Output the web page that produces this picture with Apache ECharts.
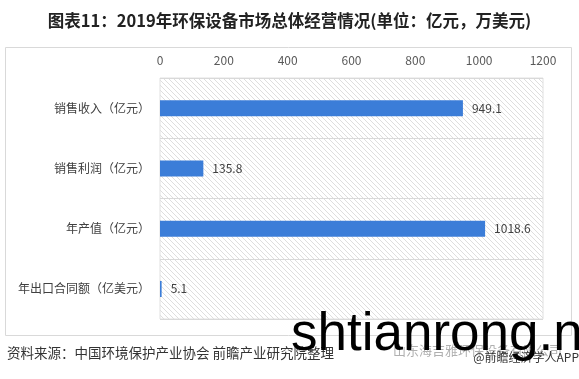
<!DOCTYPE html>
<html><head><meta charset="utf-8">
<script src="https://cdn.jsdelivr.net/npm/echarts@6/dist/echarts.min.js"></script>
<style>html,body{margin:0;padding:0;background:#fff}#c{width:579px;height:379px}</style>
</head><body><div id="c"></div>
<script>
const categories = ['销售收入（亿元）', '销售利润（亿元）', '年产值（亿元）', '年出口合同额（亿美元）'];
const values = [949.1, 135.8, 1018.6, 5.1];
const xTicks = [0, 200, 400, 600, 800, 1000, 1200];
const titleText = '图表11：2019年环保设备市场总体经营情况(单位：亿元，万美元)';
const sourceText = '资料来源：中国环境保护产业协会 前瞻产业研究院整理';

const tile = document.createElement('canvas');
tile.width = 5; tile.height = 5;
const g = tile.getContext('2d');
g.fillStyle = '#ffffff'; g.fillRect(0,0,5,5);
g.strokeStyle = '#d6d6d6'; g.lineWidth = 0.8;
g.beginPath();
g.moveTo(-1,-1); g.lineTo(6,6);
g.moveTo(-1,4); g.lineTo(1,6);
g.moveTo(4,-1); g.lineTo(6,1);
g.stroke();

const chart = echarts.init(document.getElementById('c'), null, {renderer:'canvas'});
chart.setOption({
  animation: false,
  title: {
    text: titleText, left: 'center', top: 7,
    textStyle: {fontSize: 16.5, fontWeight: 'bold', color: '#222', fontFamily: 'Noto Sans CJK SC'}
  },
  grid: {
    left: 160, right: 36, top: 78, bottom: 60, show: true,
    backgroundColor: {image: tile, repeat: 'repeat'},
    borderColor: '#e0e0e0', borderWidth: 1
  },
  xAxis: {
    type: 'value', position: 'top', min: 0, max: 1200, interval: 200,
    axisLine: {show: false}, axisTick: {show: false}, splitLine: {show: false},
    axisLabel: {color: '#595959', fontSize: 12, margin: 12, fontFamily: 'Noto Sans CJK SC',
      formatter: v => xTicks.includes(v) ? String(v) : ''}
  },
  yAxis: {
    type: 'category', data: categories, inverse: true,
    axisLine: {show: false}, axisTick: {show: false},
    splitLine: {show: true, lineStyle: {color: '#d9d9d9', width: 1}},
    axisLabel: {color: '#404040', fontSize: 12, margin: 10, fontFamily: 'Noto Sans CJK SC'}
  },
  series: [{
    type: 'bar', data: values, barWidth: 16,
    itemStyle: {color: '#3b7dd8'},
    label: {show: true, position: 'right', distance: 9, color: '#404040', fontSize: 12,
      fontFamily: 'Noto Sans CJK SC', formatter: p => String(p.value)}
  }],
  graphic: [
    {type: 'rect', z: -10, silent: true, shape: {x: 5.5, y: 47.5, width: 566, height: 288},
      style: {fill: 'none', stroke: '#d9d9d9', lineWidth: 1}},
    {type: 'text', left: 7, top: 346, silent: true,
      style: {text: sourceText, fontSize: 13.5, fill: '#333', fontFamily: 'Noto Sans CJK SC'}},
    {type: 'text', left: 393, top: 344, silent: true,
      style: {text: '山东海吉雅环保设备有限公司', fontSize: 13, fill: '#b0b0b0', fontFamily: 'Noto Sans CJK SC'}},
    {type: 'text', right: 0, top: 351, silent: true,
      style: {text: '@前瞻经济学人APP', fontSize: 12, fill: '#333', fontFamily: 'Noto Sans CJK SC'}},
    {type: 'text', left: 291, top: 309, z: 100, silent: true,
      style: {text: 'shtianrong.n', fontSize: 53, fill: '#000', fontFamily: 'Liberation Sans'}}
  ]
});
</script></body></html>
